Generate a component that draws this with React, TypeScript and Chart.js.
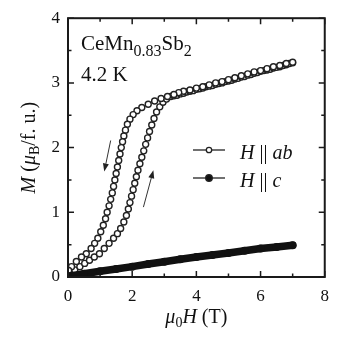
import React, { useEffect, useRef } from "react";
import { Chart, registerables } from "chart.js";
Chart.register(...registerables);

const SERIF = '"Liberation Serif", "Times New Roman", serif';

const xTickValues = [0, 2, 4, 6, 8];
const yTickValues = [0, 1, 2, 3, 4];

// H || ab, field increasing 0 -> 7 T
const abUpH = [0.03, 0.21, 0.37, 0.52, 0.67, 0.82, 0.98, 1.13, 1.28, 1.42, 1.54, 1.64, 1.74, 1.82, 1.88, 1.93, 1.98, 2.03, 2.08, 2.13, 2.18, 2.24, 2.3, 2.36, 2.42, 2.48, 2.54, 2.61, 2.68, 2.76, 2.86, 2.96, 3.07, 3.2,
  3.3, 3.4, 3.5, 3.6, 3.7, 3.8, 3.9, 4.0, 4.1, 4.2, 4.3, 4.4, 4.5, 4.6, 4.7, 4.8, 4.9, 5.0, 5.1, 5.2, 5.3, 5.4, 5.5, 5.6, 5.7, 5.8, 5.9, 6.0, 6.1, 6.2, 6.3, 6.4, 6.5, 6.6, 6.7, 6.8, 6.9, 7.0];
const abUpM = [0.04, 0.11, 0.16, 0.21, 0.26, 0.31, 0.36, 0.44, 0.52, 0.6, 0.67, 0.75, 0.85, 0.95, 1.05, 1.15, 1.25, 1.35, 1.45, 1.55, 1.65, 1.75, 1.85, 1.95, 2.05, 2.15, 2.25, 2.35, 2.45, 2.55, 2.63, 2.7, 2.75, 2.79,
  2.8, 2.81, 2.83, 2.84, 2.86, 2.87, 2.88, 2.9, 2.91, 2.92, 2.94, 2.95, 2.96, 2.98, 2.99, 3.0, 3.02, 3.03, 3.04, 3.06, 3.07, 3.09, 3.1, 3.12, 3.13, 3.15, 3.16, 3.18, 3.19, 3.2, 3.21, 3.23, 3.24, 3.25, 3.27, 3.28, 3.3, 3.31];

// H || ab, field decreasing 7 -> 0 T
const abDownH = [7.0, 6.8, 6.6, 6.4, 6.2, 6.0, 5.8, 5.6, 5.4, 5.2, 5.0, 4.8, 4.6, 4.4, 4.2, 4.0, 3.8, 3.6, 3.45,
  3.3, 3.1, 2.9, 2.7, 2.5, 2.3, 2.15, 2.03, 1.93, 1.85, 1.79, 1.74, 1.7, 1.66, 1.62, 1.58, 1.54, 1.5, 1.46, 1.42, 1.38, 1.33,
  1.28, 1.22, 1.17, 1.1, 1.02, 0.93, 0.83, 0.72, 0.57, 0.42, 0.26, 0.11, 0.02];
const abDownM = [3.32, 3.3, 3.27, 3.25, 3.22, 3.19, 3.17, 3.14, 3.11, 3.08, 3.05, 3.02, 3.0, 2.97, 2.94, 2.92, 2.89, 2.87, 2.85,
  2.82, 2.79, 2.76, 2.72, 2.67, 2.62, 2.57, 2.51, 2.44, 2.36, 2.27, 2.18, 2.09, 2.0, 1.9, 1.8, 1.7, 1.6, 1.5, 1.4, 1.3, 1.2,
  1.1, 1.0, 0.9, 0.8, 0.7, 0.6, 0.52, 0.44, 0.36, 0.31, 0.24, 0.16, 0.1];

// H || c
const cH = [0, 0.5, 1, 1.5, 2, 2.5, 3, 3.5, 4, 4.5, 5, 5.5, 6, 6.5, 7];
const cM = [0.01, 0.05, 0.09, 0.125, 0.16, 0.2, 0.235, 0.275, 0.31, 0.34, 0.37, 0.405, 0.44, 0.465, 0.49];

// sweep-direction arrows [from, to] in data units
const arrowDown = [[1.33, 2.11], [1.13, 1.63]];
const arrowUp = [[2.35, 1.08], [2.66, 1.65]];

type Run = { t: string; size: number; italic?: boolean; dy?: number };

function setFont(ctx: CanvasRenderingContext2D, r: Run) {
  ctx.font = `${r.italic ? "italic " : ""}${r.size}px ${SERIF}`;
}
function runsWidth(ctx: CanvasRenderingContext2D, runs: Run[]) {
  let w = 0;
  for (const r of runs) { setFont(ctx, r); w += ctx.measureText(r.t).width; }
  return w;
}
function drawRuns(ctx: CanvasRenderingContext2D, x: number, y: number, runs: Run[]) {
  let cx = x;
  ctx.textAlign = "left";
  ctx.textBaseline = "alphabetic";
  for (const r of runs) {
    setFont(ctx, r);
    ctx.fillText(r.t, cx, y + (r.dy || 0));
    cx += ctx.measureText(r.t).width;
  }
}

const zip = (xs: number[], ys: number[]) => xs.map((x, i) => ({ x, y: ys[i] }));

const decorPlugin = {
  id: "decor",
  afterDraw(chart: any) {
    const ctx: CanvasRenderingContext2D = chart.ctx;
    const { left, right, top, bottom } = chart.chartArea;
    const xs = chart.scales.x;
    const ys = chart.scales.y;
    ctx.save();
    ctx.strokeStyle = "#1a1a1a";
    ctx.fillStyle = "#111";
    // frame
    ctx.lineWidth = 2;
    ctx.strokeRect(left, top, right - left, bottom - top);
    // inward ticks
    ctx.lineWidth = 1.5;
    ctx.beginPath();
    for (let v = 0; v <= 8; v += 1) {
      const p = xs.getPixelForValue(v);
      const L = v % 2 === 0 ? 6 : 3.5;
      ctx.moveTo(p, bottom); ctx.lineTo(p, bottom - L);
      ctx.moveTo(p, top); ctx.lineTo(p, top + L);
    }
    for (let v = 0; v <= 4; v += 0.5) {
      const p = ys.getPixelForValue(v);
      const L = Number.isInteger(v) ? 6 : 3.5;
      ctx.moveTo(left, p); ctx.lineTo(left + L, p);
      ctx.moveTo(right, p); ctx.lineTo(right - L, p);
    }
    ctx.stroke();

    // arrows
    const drawArrow = (a: number[][]) => {
      const x1 = xs.getPixelForValue(a[0][0]), y1 = ys.getPixelForValue(a[0][1]);
      const x2 = xs.getPixelForValue(a[1][0]), y2 = ys.getPixelForValue(a[1][1]);
      const ang = Math.atan2(y2 - y1, x2 - x1);
      const hl = 8, hw = 3;
      ctx.lineWidth = 1;
      ctx.strokeStyle = "#333";
      ctx.beginPath();
      ctx.moveTo(x1, y1);
      ctx.lineTo(x2 - hl * Math.cos(ang), y2 - hl * Math.sin(ang));
      ctx.stroke();
      ctx.beginPath();
      ctx.moveTo(x2, y2);
      ctx.lineTo(x2 - hl * Math.cos(ang) + hw * Math.sin(ang), y2 - hl * Math.sin(ang) - hw * Math.cos(ang));
      ctx.lineTo(x2 - hl * Math.cos(ang) - hw * Math.sin(ang), y2 - hl * Math.sin(ang) + hw * Math.cos(ang));
      ctx.closePath();
      ctx.fillStyle = "#222";
      ctx.fill();
    };
    drawArrow(arrowDown);
    drawArrow(arrowUp);

    ctx.fillStyle = "#111";
    // sample label
    drawRuns(ctx, 81, 50, [
      { t: "CeMn", size: 21 },
      { t: "0.83", size: 16, dy: 6 },
      { t: "Sb", size: 21 },
      { t: "2", size: 16, dy: 6 },
    ]);
    drawRuns(ctx, 81, 81, [{ t: "4.2 K", size: 21 }]);

    // legend
    const legendRows = [
      { y: 150, filled: false, runs: [{ t: "H", size: 20, italic: true }, { t: " || ", size: 20 }, { t: "ab", size: 20, italic: true }] },
      { y: 178, filled: true, runs: [{ t: "H", size: 20, italic: true }, { t: " || ", size: 20 }, { t: "c", size: 20, italic: true }] },
    ];
    for (const row of legendRows) {
      ctx.strokeStyle = "#222";
      ctx.lineWidth = 1.3;
      ctx.beginPath();
      ctx.moveTo(193, row.y); ctx.lineTo(225, row.y);
      ctx.stroke();
      ctx.beginPath();
      ctx.arc(209, row.y, row.filled ? 3.3 : 2.7, 0, Math.PI * 2);
      ctx.fillStyle = row.filled ? "#111" : "#fff";
      ctx.fill();
      ctx.stroke();
      ctx.fillStyle = "#111";
      drawRuns(ctx, 240, row.y + 9, row.runs as Run[]);
    }

    // x title
    const xRuns: Run[] = [
      { t: "μ", size: 20, italic: true },
      { t: "0", size: 14, dy: 4 },
      { t: "H", size: 20, italic: true },
      { t: " (T)", size: 20 },
    ];
    const xw = runsWidth(ctx, xRuns);
    drawRuns(ctx, (left + right) / 2 - xw / 2, 323, xRuns);

    // y title
    const yRuns: Run[] = [
      { t: "M", size: 20, italic: true },
      { t: " (", size: 20 },
      { t: "μ", size: 20, italic: true },
      { t: "B", size: 14, dy: 4 },
      { t: "/f. u.)", size: 20 },
    ];
    const yw = runsWidth(ctx, yRuns);
    ctx.translate(35, (top + bottom) / 2);
    ctx.rotate(-Math.PI / 2);
    drawRuns(ctx, -yw / 2, 0, yRuns);
    ctx.restore();
  },
};

export default function App() {
  const ref = useRef<HTMLCanvasElement | null>(null);
  useEffect(() => {
    if (!ref.current) return;
    const chart = new Chart(ref.current, {
      type: "scatter",
      data: {
        datasets: [
          {
            label: "H || c",
            data: zip(cH, cM),
            showLine: true,
            borderColor: "#111",
            backgroundColor: "#111",
            borderWidth: 7.5,
            borderCapStyle: "round",
            pointRadius: 4,
            pointBorderWidth: 0,
            pointBackgroundColor: "#111",
          } as any,
          {
            label: "H || ab",
            data: [...zip(abUpH, abUpM), ...zip(abDownH, abDownM)],
            showLine: false,
            pointStyle: "circle",
            pointRadius: 3,
            pointBorderWidth: 1.4,
            pointBorderColor: "#222",
            pointBackgroundColor: "#fff",
          } as any,
        ],
      },
      options: {
        responsive: false,
        animation: false,
        events: [],
        layout: { padding: { left: 28, right: 8, top: 17, bottom: 21 } },
        plugins: { legend: { display: false }, tooltip: { enabled: false } },
        scales: {
          x: {
            type: "linear",
            min: 0,
            max: 8,
            afterFit: (s: any) => { s.height = 40; },
            afterBuildTicks: (s: any) => { s.ticks = xTickValues.map((v) => ({ value: v })); },
            ticks: { color: "#111", padding: 9, font: { family: SERIF, size: 17 } },
            grid: { display: false, drawTicks: false },
            border: { display: false },
          },
          y: {
            type: "linear",
            min: 0,
            max: 4,
            afterFit: (s: any) => { s.width = 40; },
            afterBuildTicks: (s: any) => { s.ticks = yTickValues.map((v) => ({ value: v })); },
            ticks: { color: "#111", padding: 8, font: { family: SERIF, size: 17 } },
            grid: { display: false, drawTicks: false },
            border: { display: false },
          },
        },
      },
      plugins: [decorPlugin],
    });
    return () => chart.destroy();
  }, []);
  return (
    <div style={{ position: "absolute", left: 0, top: 0, width: 338, height: 338, background: "#fff" }}>
      <canvas ref={ref} width={338} height={338} style={{ display: "block" }} />
    </div>
  );
}
